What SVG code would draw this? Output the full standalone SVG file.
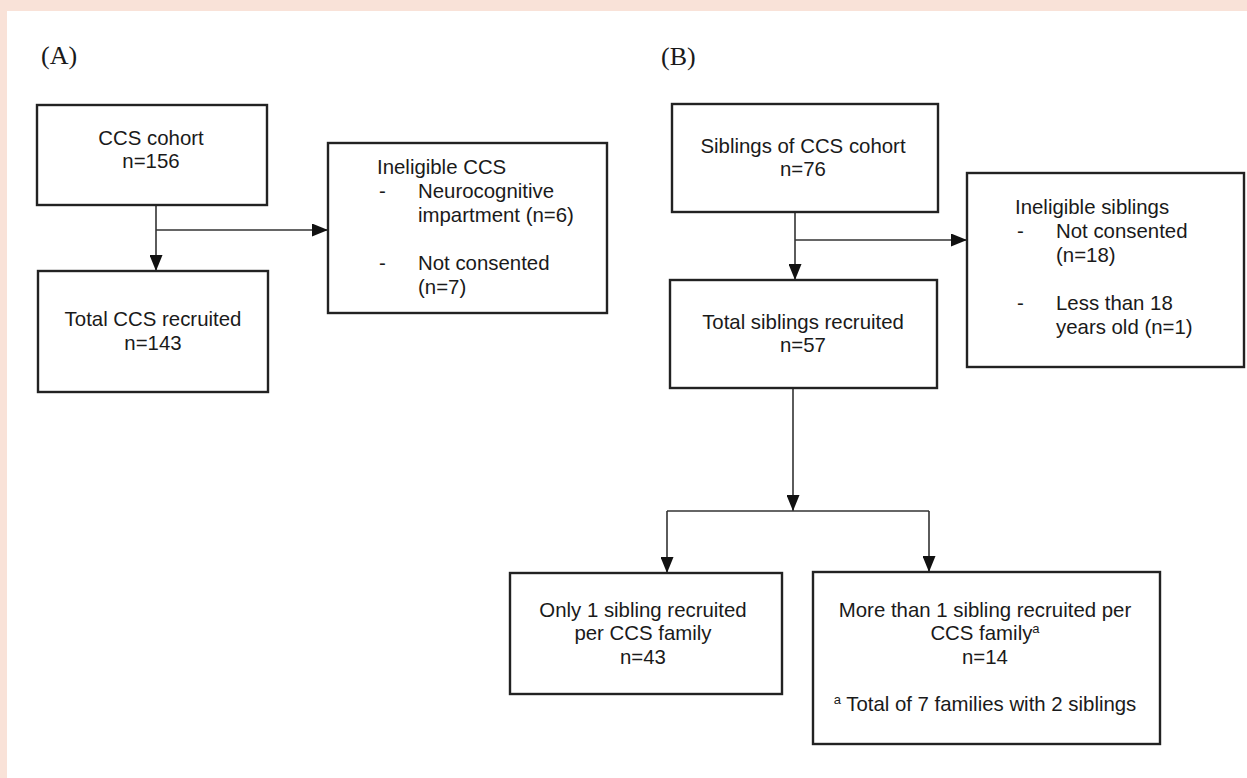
<svg xmlns="http://www.w3.org/2000/svg" width="1247" height="778" viewBox="0 0 1247 778">
<style>
.box{fill:#fff;stroke:#222;stroke-width:2.4}
.t{font-family:"Liberation Sans",Arial,sans-serif;font-size:20.4px;fill:#1a1a1a}
.c{text-anchor:middle}
.lab{font-family:"Liberation Serif","Times New Roman",serif;font-size:26px;fill:#1a1a1a}
.ln{stroke:#333;stroke-width:1.6;fill:none}
.sup{font-size:13px}
</style>
<defs>
<marker id="arr" viewBox="0 0 16 13" refX="16" refY="6.5" markerWidth="16" markerHeight="13" markerUnits="userSpaceOnUse" orient="auto">
<path d="M0,0 L16,6.5 L0,13 z" fill="#111"/>
</marker>
</defs>
<rect x="0" y="0" width="1247" height="778" fill="#F9E2D8"/>
<rect x="7" y="11" width="1240" height="767" fill="#fff"/>
<text class="lab" x="41" y="64">(A)</text>
<text class="lab" x="661" y="65">(B)</text>
<g id="connectors">
<line class="ln" x1="156" y1="205" x2="156" y2="271" marker-end="url(#arr)"/>
<line class="ln" x1="156" y1="230" x2="328" y2="230" marker-end="url(#arr)"/>
<line class="ln" x1="795" y1="212" x2="795" y2="280" marker-end="url(#arr)"/>
<line class="ln" x1="795" y1="240" x2="967" y2="240" marker-end="url(#arr)"/>
<line class="ln" x1="793" y1="388" x2="793" y2="511" marker-end="url(#arr)"/>
<line class="ln" x1="667" y1="511" x2="929" y2="511"/>
<line class="ln" x1="667" y1="511" x2="667" y2="573" marker-end="url(#arr)"/>
<line class="ln" x1="929" y1="511" x2="929" y2="572" marker-end="url(#arr)"/>
</g>
<g id="ccs-cohort">
<rect class="box" x="37" y="105" width="230" height="100"/>
<text class="t c" x="151" y="145">CCS cohort</text>
<text class="t c" x="151" y="168">n=156</text>
</g>
<g id="ccs-recruited">
<rect class="box" x="38" y="271" width="230" height="121"/>
<text class="t c" x="153" y="326">Total CCS recruited</text>
<text class="t c" x="153" y="350">n=143</text>
</g>
<g id="ccs-ineligible">
<rect class="box" x="328" y="143" width="279" height="170"/>
<text class="t" x="377" y="174">Ineligible CCS</text>
<text class="t" x="379" y="198">-</text>
<text class="t" x="418" y="198">Neurocognitive</text>
<text class="t" x="418" y="222">impartment (n=6)</text>
<text class="t" x="379" y="270">-</text>
<text class="t" x="418" y="270">Not consented</text>
<text class="t" x="418" y="294">(n=7)</text>
</g>
<g id="siblings-cohort">
<rect class="box" x="672" y="104" width="266" height="108"/>
<text class="t c" x="803" y="153">Siblings of CCS cohort</text>
<text class="t c" x="803" y="176">n=76</text>
</g>
<g id="siblings-recruited">
<rect class="box" x="670" y="280" width="267" height="108"/>
<text class="t c" x="803" y="329">Total siblings recruited</text>
<text class="t c" x="803" y="352">n=57</text>
</g>
<g id="siblings-ineligible">
<rect class="box" x="967" y="173" width="277" height="194"/>
<text class="t" x="1015" y="214">Ineligible siblings</text>
<text class="t" x="1017" y="238">-</text>
<text class="t" x="1056" y="238">Not consented</text>
<text class="t" x="1056" y="262">(n=18)</text>
<text class="t" x="1017" y="310">-</text>
<text class="t" x="1056" y="310">Less than 18</text>
<text class="t" x="1056" y="334">years old (n=1)</text>
</g>
<g id="one-sibling">
<rect class="box" x="510" y="573" width="272" height="121"/>
<text class="t c" x="643" y="617">Only 1 sibling recruited</text>
<text class="t c" x="643" y="640">per CCS family</text>
<text class="t c" x="643" y="664">n=43</text>
</g>
<g id="multi-sibling">
<rect class="box" x="813" y="572" width="347" height="172"/>
<text class="t c" x="985" y="617">More than 1 sibling recruited per</text>
<text class="t c" x="985" y="640">CCS family<tspan class="sup" baseline-shift="super">a</tspan></text>
<text class="t c" x="985" y="664">n=14</text>
<text class="t c" x="985" y="711"><tspan class="sup" baseline-shift="super">a</tspan> Total of 7 families with 2 siblings</text>
</g>
</svg>
